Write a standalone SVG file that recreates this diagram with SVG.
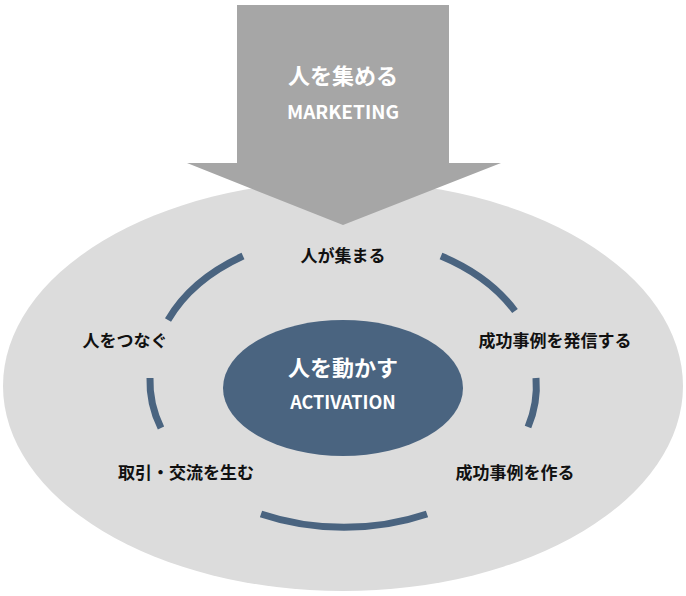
<svg xmlns="http://www.w3.org/2000/svg" width="686" height="596" viewBox="0 0 686 596">
<style>
.t{font-family:"Noto Sans CJK JP","Noto Sans",sans-serif;font-weight:bold}
.lbl{font-size:17px;fill:#111;text-anchor:middle}
.arc{fill:none;stroke:#4a6480;stroke-width:7}
</style>
<rect width="686" height="596" fill="#fff"/>
<g id="outer"><ellipse cx="343" cy="386" rx="340" ry="205" fill="#dcdcdc"/></g>
<g id="marketing">
<polygon points="237,5 449,5 449,163 501,163 343,225 187,163 237,163" fill="#a6a6a6"/>
<text class="t" x="343" y="84" font-size="22" fill="#fff" text-anchor="middle">人を集める</text>
<text class="t" x="343" y="119" font-size="19" fill="#fff" text-anchor="middle">MARKETING</text>
</g>
<g id="connectors">
<path class="arc" d="M243,256 A195,140 0 0 0 168,320"/>
<path class="arc" d="M441,256 A195,140 0 0 1 515,311"/>
<path class="arc" d="M150,378 A195,140 0 0 0 161,428"/>
<path class="arc" d="M536,378 A195,140 0 0 1 528,427"/>
<path class="arc" d="M261,514 A195,140 0 0 0 427,514"/>
</g>
<g id="activation">
<ellipse cx="343" cy="388" rx="120" ry="68" fill="#4a6480"/>
<text class="t" x="343" y="376" font-size="22" fill="#fff" text-anchor="middle">人を動かす</text>
<text class="t" x="343" y="409" font-size="18" fill="#fff" text-anchor="middle">ACTIVATION</text>
</g>
<g id="n1"><text class="t lbl" x="343" y="262">人が集まる</text></g>
<g id="n2"><text class="t lbl" x="555" y="347">成功事例を発信する</text></g>
<g id="n3"><text class="t lbl" x="515" y="479">成功事例を作る</text></g>
<g id="n4"><text class="t lbl" x="186" y="479">取引・交流を生む</text></g>
<g id="n5"><text class="t lbl" x="125" y="347">人をつなぐ</text></g>
</svg>
